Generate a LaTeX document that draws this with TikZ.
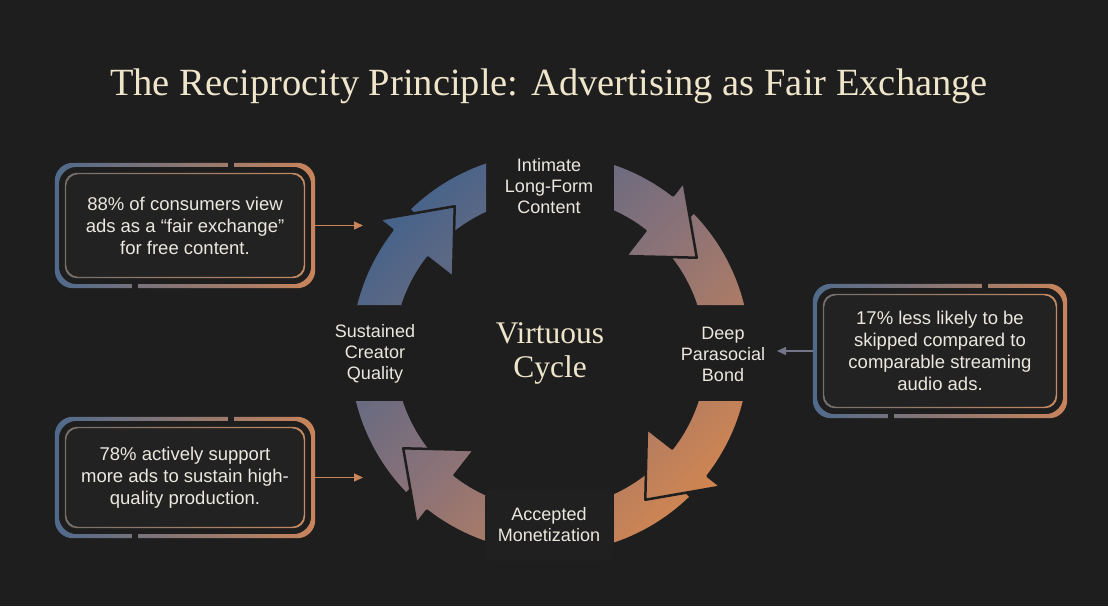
\documentclass[tikz,border=0pt]{standalone}
\usepackage{fontspec}
\setmainfont{Liberation Serif}
\setsansfont{Liberation Sans}
\usetikzlibrary{arrows.meta,calc}

\definecolor{bgc}{HTML}{1E1E1E}
\definecolor{boxc}{HTML}{222222}
\definecolor{txt}{HTML}{ECE8E0}
\definecolor{cream}{HTML}{EFE5CB}
\definecolor{cblue}{HTML}{42628B}
\definecolor{cmauve}{HTML}{8A7278}
\definecolor{corange}{HTML}{D4864F}
\definecolor{fblue}{HTML}{506A8C}
\definecolor{forange}{HTML}{C9845A}
\definecolor{iblue}{HTML}{75706C}
\definecolor{iorange}{HTML}{C58A62}
\definecolor{agray}{HTML}{75758A}

\tikzset{
  titletext/.style={font=\fontsize{38.5}{44}\selectfont, text=cream},
  hubtext/.style={font=\fontsize{31.5}{34}\selectfont, text=cream, align=center},
  ringtext/.style={font=\sffamily\fontsize{18}{21}\selectfont, text=txt, align=center},
  factbox/.style={fill=boxc, rounded corners=12, inner sep=0pt, align=center,
    font=\sffamily\fontsize{18.5}{22}\selectfont, text=txt},
  ringfill/.style={top color=cblue, bottom color=corange, middle color=cmauve, shading angle=45},
  cutline/.style={draw=bgc, line width=2.5pt, line join=round},
  outerframe/.style={left color=fblue, right color=forange, even odd rule, rounded corners=18},
  innerframe/.style={left color=iblue, right color=iorange, even odd rule, rounded corners=12},
  factarrow/.style={-{Triangle[length=9pt, width=8pt]}, line width=1.3pt, draw=forange, fill=forange},
}

% double frame with two gaps round a fact box
\newcommand{\factframe}[1]{%
  \shade[outerframe] ($(#1.south west)+(-10,-10)$) rectangle ($(#1.north east)+(10,10)$)
    ($(#1.south west)+(-6,-6)$) rectangle ($(#1.north east)+(6,6)$);
  \shade[innerframe] (#1.south west) rectangle (#1.north east)
    ($(#1.south west)+(1.4,1.4)$) rectangle ($(#1.north east)+(-1.4,-1.4)$);
  \fill[bgc] ($(#1.north west)!0.69!(#1.north east)+(-3,4)$) rectangle ++(6,8);
  \fill[bgc] ($(#1.south west)!0.29!(#1.south east)+(-3,-4)$) rectangle ++(6,-8);
}

\begin{document}
\begin{tikzpicture}[x=1pt, y=1pt]

  % Background
  \fill[bgc] (0,0) rectangle (1108,-606);

  % Title
  \node[titletext] (title) at (549,-86) {The Reciprocity Principle: Advertising as Fair Exchange};

  % Ring: four quadrants, each a tail piece and an arrow piece, clockwise
  \begin{scope}[shift={(550,-353)}]
    \clip (64,48) rectangle (240,240) (-240,48) rectangle (-64,240)
          (-240,-240) rectangle (-64,-48) (64,-240) rectangle (240,-48);
    \foreach \o in {0,-90,-180,-270} {
      \pgfmathsetmacro\tS{\o+44}
      \pgfmathsetmacro\tE{\o-10}
      \pgfmathsetmacro\aS{\o+100}
      \pgfmathsetmacro\aB{\o+52}
      \pgfmathsetmacro\aT{\o+33}
      % tail piece
      \begin{scope}
        \clip (\tS:200) arc[start angle=\tS, end angle=\tE, radius=200]
          -- (\tE:155) arc[start angle=\tE, end angle=\tS, radius=155] -- cycle;
        \shade[ringfill] (-220,-220) rectangle (220,220);
      \end{scope}
      % arrow piece
      \begin{scope}
        \clip (\aS:200) arc[start angle=\aS, end angle=\aB, radius=200]
          -- (\aB:217) -- (\aT:175) -- (\aB:123)
          -- (\aB:155) arc[start angle=\aB, end angle=\aS, radius=155] -- cycle;
        \shade[ringfill] (-220,-220) rectangle (220,220);
      \end{scope}
      \draw[cutline] (\aS:200) arc[start angle=\aS, end angle=\aB, radius=200]
          -- (\aB:217) -- (\aT:175) -- (\aB:123)
          -- (\aB:155) arc[start angle=\aB, end angle=\aS, radius=155] -- cycle;
    }
  \end{scope}

  % Ring labels
  \node[ringtext] (content) at (549,-186) {Intimate\\Long-Form\\Content};
  \node[ringtext] (bond) at (723,-354) {Deep\\Parasocial\\Bond};
  \node[ringtext] (quality) at (375,-354) {Sustained\\Creator\\Quality};
  \node[ringtext, fill=boxc!60!bgc, rounded corners=8, minimum width=128, minimum height=72]
    (monet) at (549,-525) {Accepted\\Monetization};
  \node[hubtext] (hub) at (550,-353) {Virtuous\\Cycle};

  % Fact boxes
  \node[factbox, minimum width=240, minimum height=105] (fact1) at (185,-225.5)
    {88\% of consumers view\\ads as a “fair exchange”\\for free content.};
  \node[factbox, minimum width=240, minimum height=101] (fact2) at (185,-477.5)
    {78\% actively support\\more ads to sustain high-\\quality production.};
  \node[factbox, minimum width=234, minimum height=114] (fact3) at (940,-351)
    {17\% less likely to be\\skipped compared to\\comparable streaming\\audio ads.};
  \foreach \b in {fact1,fact2,fact3} {
    \factframe{\b}
  }

  % Connectors into the ring
  \coordinate (in1) at (363,-225.5);
  \coordinate (in2) at (363,-477.5);
  \coordinate (in3) at (777,-351);
  \draw[factarrow] ([xshift=10pt]fact1.east) -- (in1);
  \draw[factarrow] ([xshift=10pt]fact2.east) -- (in2);
  \draw[factarrow, draw=agray, fill=agray] ([xshift=-10pt]fact3.west) -- (in3);

\end{tikzpicture}
\end{document}
